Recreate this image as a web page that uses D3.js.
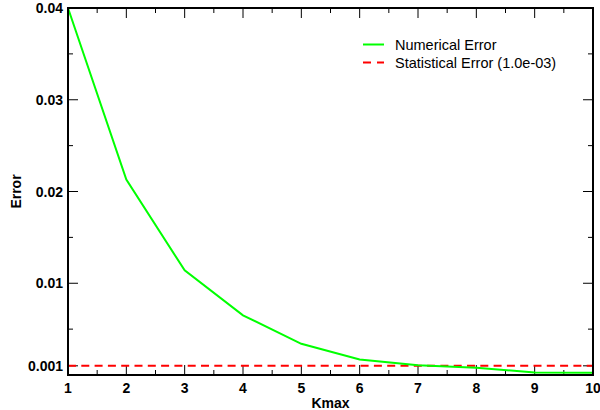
<!DOCTYPE html>
<html>
<head>
<meta charset="utf-8">
<script src="https://cdn.jsdelivr.net/npm/d3@7"></script>
<style>
  body { margin: 0; background: #fff; }
  text { font-family: "Liberation Sans", Arial, sans-serif; }
</style>
</head>
<body>
<script>
const width = 600
const height = 410
const margin = { top: 8, right: 7, bottom: 35, left: 68 }

// values
const kmax = [1, 2, 3, 4, 5, 6, 7, 8, 9, 10]
const numericalError = [0.0400, 0.0213, 0.0114, 0.0065, 0.0034, 0.0017, 0.00105, 0.0008, 0.00027, 0.00025]
const statisticalError = 0.001
const yTicks = [0.001, 0.01, 0.02, 0.03, 0.04]
const yMinor = [0.005, 0.015, 0.025, 0.035]
const xTicks = [1, 2, 3, 4, 5, 6, 7, 8, 9, 10]
const xMinor = [1.5, 2.5, 3.5, 4.5, 5.5, 6.5, 7.5, 8.5, 9.5]

const x = d3.scaleLinear().domain([1, 10]).range([margin.left, width - margin.right])
const y = d3.scaleLinear().domain([0, 0.04]).range([height - margin.bottom, margin.top])

const svg = d3.select('body').append('svg').attr('width', width).attr('height', height)

const x0 = x.range()[0], x1 = x.range()[1]
const y0 = y.range()[0], y1 = y.range()[1]

// ticks, all pointing inward
const tickG = svg.append('g').attr('stroke', '#000').attr('stroke-width', 1)
xTicks.forEach(t => {
  tickG.append('line').attr('x1', x(t)).attr('x2', x(t)).attr('y1', y0).attr('y2', y0 - 10)
  tickG.append('line').attr('x1', x(t)).attr('x2', x(t)).attr('y1', y1).attr('y2', y1 + 10)
})
xMinor.forEach(t => {
  tickG.append('line').attr('x1', x(t)).attr('x2', x(t)).attr('y1', y0).attr('y2', y0 - 5)
  tickG.append('line').attr('x1', x(t)).attr('x2', x(t)).attr('y1', y1).attr('y2', y1 + 5)
})
yTicks.forEach(t => {
  tickG.append('line').attr('x1', x0).attr('x2', x0 + 10).attr('y1', y(t)).attr('y2', y(t))
  tickG.append('line').attr('x1', x1).attr('x2', x1 - 10).attr('y1', y(t)).attr('y2', y(t))
})
yMinor.forEach(t => {
  tickG.append('line').attr('x1', x0).attr('x2', x0 + 5).attr('y1', y(t)).attr('y2', y(t))
  tickG.append('line').attr('x1', x1).attr('x2', x1 - 5).attr('y1', y(t)).attr('y2', y(t))
})

// tick labels
svg.append('g').selectAll('text').data(xTicks).join('text')
  .attr('x', d => x(d)).attr('y', y0 + 18)
  .attr('text-anchor', 'middle')
  .style('font-size', '14px').style('font-weight', 'bold')
  .text(d => d)

svg.append('g').selectAll('text').data(yTicks).join('text')
  .attr('x', x0 - 5).attr('y', d => y(d) + 5)
  .attr('text-anchor', 'end')
  .style('font-size', '14px').style('font-weight', 'bold')
  .text(d => d)

// axis titles
svg.append('text')
  .attr('x', (x0 + x1) / 2).attr('y', height - 2)
  .attr('text-anchor', 'middle')
  .style('font-size', '14px').style('font-weight', 'bold')
  .text('Kmax')

svg.append('text')
  .attr('transform', `translate(21,${(y0 + y1) / 2}) rotate(-90)`)
  .attr('text-anchor', 'middle')
  .style('font-size', '14px').style('font-weight', 'bold')
  .text('Error')

// series
const line = d3.line().x((d, i) => x(kmax[i])).y(d => y(d))

svg.append('line')
  .attr('x1', x0).attr('x2', x1)
  .attr('y1', y(statisticalError)).attr('y2', y(statisticalError))
  .attr('stroke', '#ff0000').attr('stroke-width', 2)
  .attr('stroke-dasharray', '8,5.3')

svg.append('path')
  .datum(numericalError)
  .attr('d', line)
  .attr('fill', 'none')
  .attr('stroke', '#00ff00')
  .attr('stroke-width', 2)

// frame
svg.append('rect')
  .attr('x', x0).attr('y', y1)
  .attr('width', x1 - x0).attr('height', y0 - y1)
  .attr('fill', 'none').attr('stroke', '#000').attr('stroke-width', 2)

// legend
const legend = svg.append('g').attr('transform', 'translate(363,44.5)')
legend.append('line').attr('x1', 0).attr('x2', 21).attr('y1', 0).attr('y2', 0)
  .attr('stroke', '#00ff00').attr('stroke-width', 2)
legend.append('text').attr('x', 32).attr('y', 5).style('font-size', '14.5px').text('Numerical Error')
legend.append('line').attr('x1', 0).attr('x2', 21).attr('y1', 18).attr('y2', 18)
  .attr('stroke', '#ff0000').attr('stroke-width', 2).attr('stroke-dasharray', '8,6')
legend.append('text').attr('x', 32).attr('y', 23).style('font-size', '14.5px').text('Statistical Error (1.0e-03)')
</script>
</body>
</html>
